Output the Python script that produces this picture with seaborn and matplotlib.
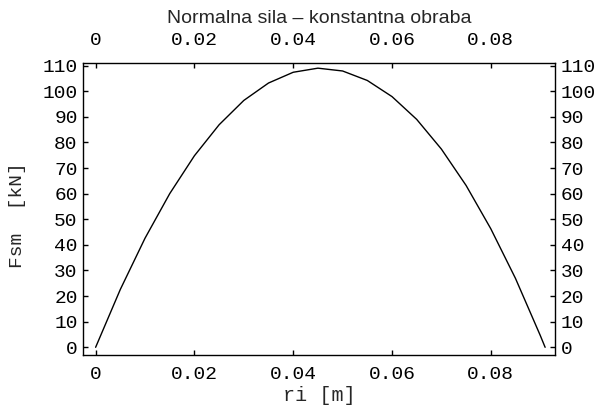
import matplotlib
matplotlib.use("Agg")
import matplotlib.pyplot as plt
import seaborn as sns

# inner radius r_i [m] and normal force F_sm [kN] (constant wear model)
ri = [0.000, 0.005, 0.010, 0.015, 0.020, 0.025, 0.030, 0.035, 0.040, 0.045,
      0.050, 0.055, 0.060, 0.065, 0.070, 0.075, 0.080, 0.085, 0.090, 0.091]
fsm = [0.0, 22.6, 42.6, 60.0, 74.8, 86.9, 96.4, 103.2, 107.4, 109.0,
       107.9, 104.2, 97.9, 89.0, 77.4, 63.2, 46.3, 26.9, 4.7, 0.0]

x_ticks = [0, 0.02, 0.04, 0.06, 0.08]
x_labels = ["0", "0.02", "0.04", "0.06", "0.08"]
y_ticks = list(range(0, 111, 10))
y_labels = [str(v) for v in y_ticks]

title = "Normalna sila \u2013 konstantna obraba"
xlabel = "ri [m]"
ylabel = "Fsm  [kN]"

sns.set_style("ticks")
plt.rcParams["font.family"] = ["Liberation Mono", "DejaVu Sans Mono"]

fig = plt.figure(figsize=(6.03, 4.05), dpi=100)
ax = fig.add_axes([0.1381, 0.1235, 0.9204 - 0.1381, 0.8437 - 0.1235])

sns.lineplot(x=ri, y=fsm, ax=ax, color="black", linewidth=1.0, sort=False)

ax.set_xlim(-0.0025, 0.0930)
ax.set_ylim(-3.0, 110.9)
ax.set_xticks(x_ticks)
ax.set_xticklabels(x_labels)
ax.set_yticks(y_ticks)
ax.set_yticklabels(y_labels)

ax.tick_params(axis="both", which="major", direction="in", length=3.5, width=1.0,
               colors="black", labelsize=14,
               top=True, right=True, labeltop=False, labelright=True)
ax.tick_params(axis="x", pad=8)
ax.tick_params(axis="y", pad=4)

# top axis carries its own labels, set a bit further from the frame
top = ax.secondary_xaxis("top")
top.set_xticks(x_ticks)
top.set_xticklabels(x_labels)
top.tick_params(direction="in", length=0, labelsize=14, pad=10, colors="black")
top.spines["top"].set_visible(False)

for side in ax.spines.values():
    side.set_linewidth(1.0)
    side.set_color("black")

ax.set_xlabel(xlabel, fontsize=14.5, labelpad=2)
ax.set_ylabel(ylabel, fontsize=14)
ax.yaxis.set_label_coords(-0.122, 0.478)

fig.text(0.529, 0.955, title, ha="center", va="center",
         fontsize=14, family="Liberation Sans")

fig.savefig("out.png", dpi=100)
